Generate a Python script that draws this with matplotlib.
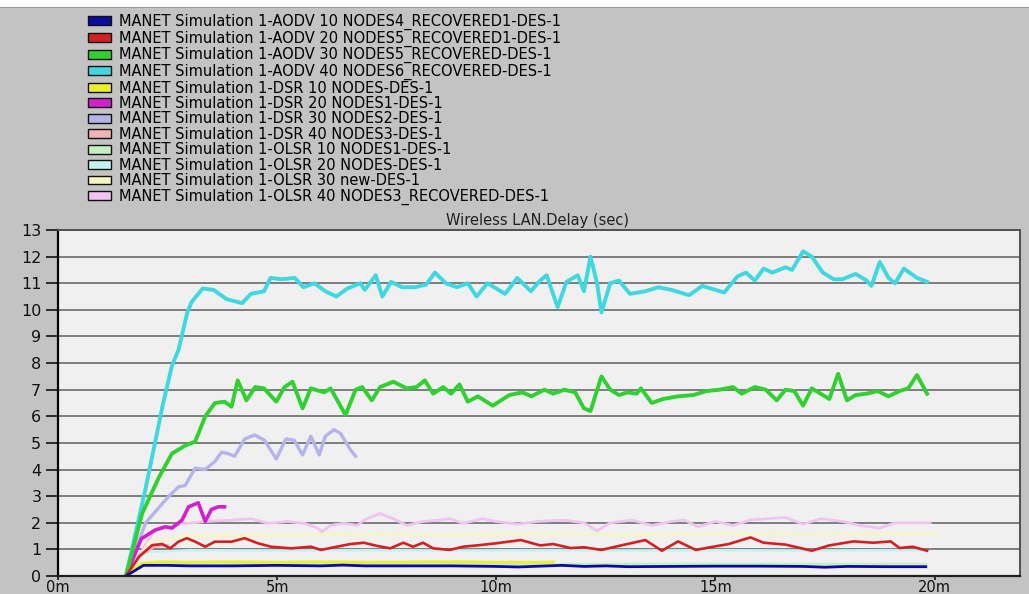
import matplotlib
matplotlib.use("Agg")
import matplotlib.pyplot as plt
from matplotlib.patches import Patch, Rectangle

# ---------------- data (time in minutes, delay in seconds) ----------------
labels = [
    "MANET Simulation 1-AODV 10 NODES4_RECOVERED1-DES-1",
    "MANET Simulation 1-AODV 20 NODES5_RECOVERED1-DES-1",
    "MANET Simulation 1-AODV 30 NODES5_RECOVERED-DES-1",
    "MANET Simulation 1-AODV 40 NODES6_RECOVERED-DES-1",
    "MANET Simulation 1-DSR 10 NODES-DES-1",
    "MANET Simulation 1-DSR 20 NODES1-DES-1",
    "MANET Simulation 1-DSR 30 NODES2-DES-1",
    "MANET Simulation 1-DSR 40 NODES3-DES-1",
    "MANET Simulation 1-OLSR 10 NODES1-DES-1",
    "MANET Simulation 1-OLSR 20 NODES-DES-1",
    "MANET Simulation 1-OLSR 30 new-DES-1",
    "MANET Simulation 1-OLSR 40 NODES3_RECOVERED-DES-1",
]
colors = ["#0a0aa0", "#d42020", "#30d030", "#40d8e0",
          "#eeee30", "#d020d0", "#b4b4ea", "#f0b4b4",
          "#c4f0c4", "#c4f2f2", "#f6f6c4", "#f0c4f0"]

aodv10_t = [1.55, 1.95, 2.5, 3.0, 4.0, 5.0, 6.0, 6.5, 7.0, 8.0, 9.0, 10.0, 10.5,
            11.0, 11.5, 12.0, 12.5, 13.0, 14.0, 15.0, 16.0, 17.0, 17.5, 18.0, 19.0, 19.8]
aodv10_v = [0.0, 0.40, 0.40, 0.38, 0.38, 0.40, 0.38, 0.41, 0.38, 0.38, 0.38, 0.36, 0.34,
            0.37, 0.40, 0.36, 0.38, 0.35, 0.36, 0.37, 0.37, 0.36, 0.33, 0.36, 0.35, 0.35]

aodv20_t = [1.55, 1.85, 2.15, 2.38, 2.56, 2.75, 2.94, 3.13, 3.36, 3.58, 3.8, 3.96, 4.26, 4.56,
            4.86, 5.32, 5.77, 6.0, 6.3, 6.67, 6.98, 7.28, 7.58, 7.88, 8.1, 8.33, 8.56, 8.94,
            9.24, 9.62, 10.0, 10.56, 11.0, 11.3, 11.7, 12.0, 12.4, 12.85, 13.4, 13.78, 14.15,
            14.55, 14.95, 15.3, 15.8, 16.1, 16.6, 17.2, 17.6, 18.15, 18.6, 19.0, 19.2, 19.5, 19.83]
aodv20_v = [0.0, 0.73, 1.16, 1.2, 1.04, 1.29, 1.42, 1.29, 1.1, 1.29, 1.29, 1.29, 1.42, 1.23,
            1.1, 1.04, 1.1, 0.98, 1.08, 1.2, 1.25, 1.13, 1.04, 1.25, 1.1, 1.25, 1.04, 0.98,
            1.1, 1.16, 1.23, 1.35, 1.15, 1.2, 1.05, 1.08, 0.98, 1.15, 1.35, 0.95, 1.3,
            0.98, 1.1, 1.2, 1.45, 1.25, 1.18, 0.95, 1.15, 1.3, 1.25, 1.3, 1.05, 1.1, 0.95]

aodv30_t = [1.55, 1.92, 2.3, 2.6, 2.9, 3.13, 3.36, 3.58, 3.8, 3.96, 4.1, 4.3, 4.5, 4.7, 4.98,
            5.17, 5.35, 5.58, 5.77, 6.07, 6.22, 6.56, 6.79, 6.94, 7.16, 7.35, 7.65, 7.96, 8.18,
            8.37, 8.56, 8.79, 8.97, 9.16, 9.35, 9.58, 9.92, 10.3, 10.6, 10.8, 11.1, 11.3, 11.55,
            11.8, 12.0, 12.15, 12.4, 12.6, 12.8, 13.0, 13.2, 13.3, 13.55, 13.8, 14.15, 14.5,
            14.8, 15.1, 15.4, 15.6, 15.9, 16.15, 16.4, 16.6, 16.8, 17.0, 17.2, 17.4, 17.6,
            17.8, 18.0, 18.2, 18.45, 18.7, 18.95, 19.2, 19.4, 19.6, 19.83]
aodv30_v = [0.0, 2.35, 3.7, 4.6, 4.9, 5.05, 6.0, 6.5, 6.55, 6.36, 7.35, 6.6, 7.1, 7.05, 6.55,
            7.1, 7.3, 6.3, 7.05, 6.9, 7.05, 6.05, 7.0, 7.1, 6.6, 7.1, 7.3, 7.05, 7.1,
            7.35, 6.85, 7.1, 6.85, 7.2, 6.55, 6.75, 6.4, 6.8, 6.9, 6.75, 7.0, 6.85, 7.0,
            6.9, 6.3, 6.2, 7.5, 7.0, 6.8, 6.9, 6.85, 7.05, 6.5, 6.65, 6.75, 6.8,
            6.95, 7.0, 7.1, 6.85, 7.1, 7.0, 6.6, 7.0, 6.95, 6.4, 7.05, 6.85, 6.65,
            7.6, 6.6, 6.8, 6.85, 6.95, 6.75, 6.95, 7.05, 7.55, 6.85]

aodv40_t = [1.55, 2.0, 2.4, 2.6, 2.75, 2.95, 3.05, 3.3, 3.55, 3.85, 4.2, 4.4, 4.7, 4.85, 5.1,
            5.4, 5.6, 5.85, 6.1, 6.35, 6.6, 6.9, 7.0, 7.25, 7.4, 7.6, 7.85, 8.15, 8.4, 8.6,
            8.85, 9.1, 9.35, 9.55, 9.8, 10.0, 10.2, 10.48, 10.79, 11.0, 11.15, 11.4, 11.6,
            11.86, 12.0, 12.15, 12.3, 12.4, 12.6, 12.8, 13.05, 13.4, 13.7, 14.0, 14.4, 14.7,
            14.9, 15.2, 15.5, 15.7, 15.9, 16.1, 16.3, 16.6, 16.75, 17.0, 17.2, 17.45, 17.7,
            17.9, 18.2, 18.45, 18.56, 18.75, 18.95, 19.1, 19.3, 19.6, 19.83]
aodv40_v = [0.0, 3.3, 6.5, 7.9, 8.5, 9.9, 10.3, 10.8, 10.75, 10.4, 10.25, 10.6, 10.7, 11.2, 11.15,
            11.2, 10.85, 11.0, 10.7, 10.5, 10.8, 11.0, 10.75, 11.3, 10.5, 11.05, 10.85, 10.85, 10.95, 11.4,
            11.0, 10.85, 11.0, 10.5, 11.0, 10.8, 10.6, 11.2, 10.7, 11.1, 11.3, 10.1, 11.05,
            11.3, 10.7, 12.0, 11.0, 9.9, 11.0, 11.1, 10.6, 10.7, 10.85, 10.75, 10.55, 10.9,
            10.8, 10.65, 11.25, 11.4, 11.1, 11.55, 11.4, 11.6, 11.5, 12.2, 12.0, 11.4, 11.15,
            11.15, 11.35, 11.1, 10.9, 11.8, 11.2, 11.0, 11.55, 11.2, 11.05]

dsr10_t = [1.55, 1.9, 2.3, 3.0, 4.0, 5.0, 6.0, 7.0, 8.0, 9.0, 10.0, 11.0, 11.3]
dsr10_v = [0.0, 0.48, 0.54, 0.52, 0.54, 0.52, 0.54, 0.52, 0.53, 0.54, 0.52, 0.52, 0.53]

dsr20_t = [1.55, 1.9, 2.22, 2.45, 2.6, 2.83, 2.98, 3.2, 3.36, 3.5, 3.66, 3.8]
dsr20_v = [0.0, 1.4, 1.73, 1.85, 1.8, 2.1, 2.6, 2.75, 2.05, 2.5, 2.6, 2.6]

dsr30_t = [1.55, 2.0, 2.53, 2.75, 2.9, 3.13, 3.36, 3.58, 3.73, 3.88, 4.03, 4.26, 4.49, 4.71,
           4.98, 5.2, 5.39, 5.58, 5.77, 5.96, 6.1, 6.3, 6.45, 6.67, 6.79]
dsr30_v = [0.0, 2.0, 3.0, 3.35, 3.4, 4.05, 4.0, 4.3, 4.65, 4.6, 4.5, 5.15, 5.3, 5.1,
           4.4, 5.15, 5.1, 4.55, 5.25, 4.55, 5.25, 5.5, 5.35, 4.75, 4.5]

dsr40_t = [1.55, 1.9, 2.2, 2.5]
dsr40_v = [0.0, 0.8, 1.1, 1.15]

olsr10_t = [1.55, 1.9, 3.0, 6.0, 9.0, 12.0, 15.0, 18.0, 19.8]
olsr10_v = [0.0, 0.45, 0.46, 0.45, 0.46, 0.45, 0.46, 0.45, 0.45]

olsr20_t = [1.55, 2.0, 3.0, 5.0, 7.0, 9.0, 11.0, 13.0, 15.0, 17.0, 19.0, 19.8]
olsr20_v = [0.0, 0.9, 0.97, 0.96, 0.97, 0.96, 0.97, 0.96, 0.97, 0.96, 0.97, 0.96]

olsr30_t = [1.55, 2.1, 3.0, 5.0, 7.0, 9.0, 11.0, 13.0, 15.0, 17.0, 19.0, 20.1]
olsr30_v = [0.0, 1.3, 1.5, 1.55, 1.58, 1.55, 1.6, 1.55, 1.6, 1.58, 1.6, 1.6]

olsr40_t = [1.55, 2.2, 2.8, 3.36, 3.96, 4.41, 4.79, 5.24, 5.62, 5.92, 6.03, 6.22, 6.52, 6.83,
            6.98, 7.35, 7.65, 7.96, 8.33, 8.71, 8.94, 9.24, 9.69, 9.99, 10.5, 10.94, 11.55,
            12.0, 12.3, 12.6, 13.1, 13.55, 14.0, 14.3, 14.6, 15.0, 15.4, 15.8, 16.15, 16.6,
            17.0, 17.4, 17.9, 18.3, 18.75, 19.1, 19.5, 19.9]
olsr40_v = [0.0, 1.7, 1.95, 2.05, 2.1, 2.15, 1.98, 2.05, 1.98, 1.8, 1.67, 1.9, 1.98, 1.9,
            2.1, 2.35, 2.15, 1.9, 2.05, 2.1, 2.15, 1.98, 2.15, 2.05, 1.95, 2.05, 2.1,
            2.0, 1.7, 2.0, 2.1, 1.9, 2.05, 2.1, 1.85, 2.05, 1.9, 2.1, 2.15, 2.2,
            1.95, 2.15, 2.05, 1.9, 1.8, 2.0, 2.0, 2.0]

series_t = [aodv10_t, aodv20_t, aodv30_t, aodv40_t, dsr10_t, dsr20_t, dsr30_t, dsr40_t,
            olsr10_t, olsr20_t, olsr30_t, olsr40_t]
series_v = [aodv10_v, aodv20_v, aodv30_v, aodv40_v, dsr10_v, dsr20_v, dsr30_v, dsr40_v,
            olsr10_v, olsr20_v, olsr30_v, olsr40_v]
widths = [2.0, 1.9, 2.8, 2.8, 2.0, 2.6, 2.4, 1.8, 1.8, 1.8, 2.0, 2.0]

y_ticks = list(range(0, 14))
x_ticks = [0, 5, 10, 15, 20]
x_ticklabels = ["0m", "5m", "10m", "15m", "20m"]
title = "Wireless LAN.Delay (sec)"

# ---------------- figure ----------------
W, H = 1029, 594
fig = plt.figure(figsize=(W / 100, H / 100), dpi=100, facecolor="#c3c3c3")
fig.patches.append(Rectangle((0, 1 - 7 / H), 1, 7 / H, transform=fig.transFigure,
                             facecolor="white", edgecolor="none", zorder=0))
fig.patches.append(Rectangle((0, 1 - 8 / H), 1, 1 / H, transform=fig.transFigure,
                             facecolor="#9a9a9a", edgecolor="none", zorder=0))

ax = fig.add_axes([58 / W, 1 - 576 / H, (1020 - 58) / W, (576 - 230) / H])
ax.set_facecolor("#f0f0f0")
ax.set_xlim(0, 21.95)
ax.set_ylim(0, 13)

for yv in y_ticks[1:]:
    ax.axhline(yv, color="#6a6a6a", lw=1.2, zorder=1)

order = [11, 10, 9, 8, 7, 6, 5, 4, 3, 2, 1, 0]
for i in order:
    ax.plot(series_t[i], series_v[i], color=colors[i], lw=widths[i], zorder=2,
            solid_joinstyle="round")

ax.set_yticks(y_ticks)
ax.set_yticklabels([str(v) for v in y_ticks])
ax.set_xticks(x_ticks)
ax.set_xticklabels(x_ticklabels)
ax.tick_params(axis="y", direction="out", length=9, width=1.2, pad=3,
               labelsize=11.5, colors="#111111")
ax.tick_params(axis="x", direction="out", length=3, width=1.2, pad=0,
               labelsize=10.5, colors="#111111")
for lab in ax.get_yticklabels() + ax.get_xticklabels():
    lab.set_family("DejaVu Sans")

ax.spines["left"].set_color("black")
ax.spines["left"].set_linewidth(1.6)
ax.spines["bottom"].set_color("#202020")
ax.spines["bottom"].set_linewidth(1.6)
ax.spines["top"].set_color("#505050")
ax.spines["top"].set_linewidth(1.4)
ax.spines["right"].set_color("#505050")
ax.spines["right"].set_linewidth(1.4)

fig.text(537 / W, 1 - 221 / H, title, ha="center", va="center", fontsize=10.5,
         color="#202020", family="DejaVu Sans")

handles = [Patch(facecolor=c, edgecolor="#101010", linewidth=1.0) for c in colors]
fig.legend(handles, labels, loc="upper left", bbox_to_anchor=(88 / W, 1 - 14 / H),
           frameon=False, labelspacing=0.03, handlelength=1.6,
           handleheight=0.55, handletextpad=0.55, borderaxespad=0, borderpad=0,
           prop={"family": "DejaVu Sans", "size": 10.5})

fig.savefig("out.png", dpi=100, facecolor=fig.get_facecolor())
